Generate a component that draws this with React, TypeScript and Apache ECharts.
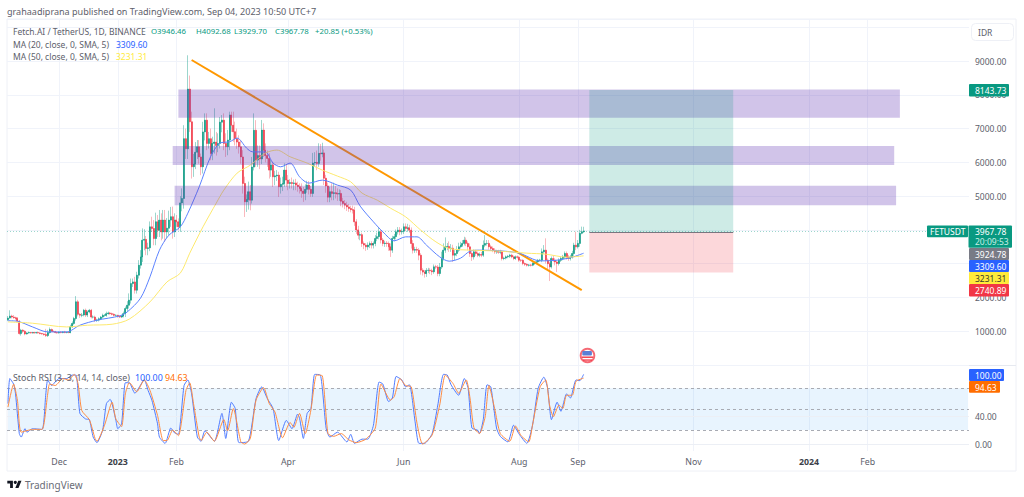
import React, { useEffect, useRef } from "react";
import * as echarts from "echarts";

const closes = [
1390,1450,1420,1400,1380,1300,930,1030,1000,920,
950,960,950,960,950,960,950,930,920,900,
870,960,1050,1000,990,960,950,970,960,980,
960,970,960,1130,1230,1375,1870,1500,1475,1480,
1620,1480,1570,1620,1420,1420,1325,1330,1370,1420,
1470,1470,1520,1540,1520,1500,1470,1470,1440,1420,
1450,1520,1670,1770,1920,2410,2460,2215,2660,2955,
3200,3695,3720,3450,3470,4090,4040,3745,4240,3990,
4290,3940,4290,3940,4050,4290,4390,3940,4290,4240,
4090,4800,4930,6700,6400,8170,7200,5870,5950,6300,
6460,6160,5870,6900,7250,6560,6700,6264,6560,6600,
6500,6560,7190,7250,6560,6460,6660,7400,7100,6906,
6700,6600,6460,6160,5375,4832,4900,5130,4880,5860,
6950,6067,6200,6100,6955,6360,6200,6116,5770,5920,
5573,5600,5622,5276,5350,5375,5770,5474,5375,5400,
5375,5390,5326,5280,5227,5150,5079,5200,5326,5200,
5079,5980,6000,5968,6264,6250,6280,5530,5300,4970,
5130,5079,5100,5079,5060,5079,4850,4783,4733,4680,
4634,4600,4585,4239,4000,3844,3860,3597,3550,3499,
3550,3597,3550,3597,3746,3800,3943,3700,3597,3610,
3597,3500,3400,3746,3800,3943,3993,3943,3960,4091,
4042,4060,3993,3597,3400,3420,3400,3252,2807,2750,
2708,2800,2807,2790,2760,2906,2900,2708,2900,3153,
3400,3499,3510,3449,3460,3252,3300,3400,3500,3548,
3600,3696,3600,3499,3300,3202,3350,3300,3252,3270,
3252,3548,3597,3600,3499,3450,3400,3350,3360,3340,
3350,3153,3165,3202,3220,3252,3200,3153,3202,3190,
3104,3100,3005,2980,2955,2960,2955,3005,3020,3054,
3100,3104,3350,3400,3104,3000,2906,3153,3104,3050,
3005,3100,3153,3200,3301,3200,3153,3200,3301,3548,
3499,3600,3900,3946.46,3967.78];

const upperWicks = [
60,170,40,60,30,40,30,40,30,30,
20,30,20,20,20,20,30,20,20,20,
170,80,60,30,20,20,20,20,30,20,
30,20,30,60,60,50,170,60,40,60,
40,50,40,40,40,50,40,40,40,30,
50,40,60,40,30,30,30,30,20,30,
40,60,60,120,200,150,100,150,100,150,
200,350,300,100,150,160,300,250,270,200,
300,200,300,300,300,280,290,300,200,150,
100,200,300,400,300,1000,400,300,300,300,
200,200,100,300,200,200,200,300,200,1000,
300,300,150,150,200,300,300,100,100,400,
300,300,200,200,200,200,150,300,200,300,
500,300,300,300,300,200,200,150,150,150,
100,150,150,100,200,200,200,150,150,100,
150,100,120,100,100,150,120,150,130,120,
100,300,300,350,300,280,300,100,100,100,
150,250,300,200,150,120,100,100,100,100,
90,80,120,100,80,120,90,60,60,60,
80,60,70,60,100,120,130,80,60,70,
60,60,100,80,80,70,90,90,80,100,
100,120,90,80,100,80,80,60,60,60,
60,70,70,60,60,70,60,60,120,200,
200,280,100,150,120,100,100,120,120,100,
100,100,80,60,100,60,70,60,60,60,
80,140,250,100,100,60,60,60,50,50,
60,40,40,40,40,40,40,40,40,40,
40,30,30,30,30,30,30,40,40,30,
40,40,100,150,350,50,50,60,80,60,
50,60,60,60,60,60,60,60,80,70,
400,100,100,150,125];

const lowerWicks = [
40,20,40,30,40,40,30,60,50,40,
20,20,20,20,20,20,20,20,20,30,
40,40,30,20,20,20,20,20,20,20,
20,20,20,20,30,40,60,60,80,60,
40,60,60,40,40,40,50,50,40,40,
40,40,40,30,30,30,30,30,40,30,
30,40,100,100,100,100,100,100,100,100,
100,150,300,200,200,100,100,200,200,200,
200,250,200,300,200,200,200,200,150,150,
100,150,250,300,300,300,300,350,300,150,
200,200,250,200,250,200,150,200,200,300,
300,200,150,300,200,300,250,300,200,300,
200,200,200,200,300,450,300,300,300,100,
100,200,200,300,150,200,200,250,250,200,
300,250,150,300,200,200,100,200,200,150,
150,200,150,150,150,200,250,200,100,150,
100,100,100,200,100,200,100,200,200,150,
150,200,200,150,200,200,150,120,120,120,
100,80,100,120,120,120,150,100,120,120,
90,90,100,100,80,80,80,100,80,100,
100,120,200,80,80,80,80,100,80,80,
80,100,80,150,100,80,80,150,130,100,
120,100,80,100,100,60,60,80,80,60,
60,80,100,100,100,200,150,80,60,50,
50,60,80,100,100,120,80,70,60,60,
60,50,60,60,80,60,60,60,60,50,
60,60,50,40,40,50,40,50,40,40,
50,50,50,50,40,40,40,30,40,30,
40,40,60,60,100,200,420,50,50,100,
250,60,50,50,60,80,70,60,50,70,
100,50,100,30,38];

const firstOpen = 1340;

const ma20Points = [[0,1311],[5,1296],[13,1127],[21,980],[31,980],[38,1178],[47,1326],[59,1453],[63,1572],[70,1978],[75,2609],[80,3400],[85,3844],[91,4090],[95,4496],[101,5275],[107,6165],[112,6570],[117,6609],[121,6718],[126,6422],[129,6313],[136,6304],[140,5978],[144,5868],[149,5978],[154,5572],[159,5385],[166,5474],[174,5326],[181,5178],[186,4704],[193,4239],[198,3942],[204,3676],[210,3794],[216,3794],[221,3548],[228,3201],[233,3074],[239,3163],[244,3370],[249,3400],[260,3379],[270,3311],[281,3083],[290,3104],[298,3193],[304,3309.6]];

const ma50Points = [[0,1275],[13,1237],[31,1127],[42,1178],[55,1207],[64,1356],[75,1868],[84,2461],[91,2719],[96,3311],[103,4090],[110,4793],[114,5178],[121,5681],[128,5918],[136,6274],[142,6363],[149,6165],[158,5978],[166,5770],[174,5593],[181,5424],[187,5089],[195,4881],[202,4644],[210,4387],[218,3993],[226,3646],[233,3450],[245,3400],[260,3370],[274,3311],[284,3281],[295,3193],[304,3231.31]];

const stochK = [[0,58],[1,94],[3,86],[4,72],[6,15],[7,10],[9,22],[10,17],[13,22],[18,21],[20,72],[21,92],[23,84],[27,94],[31,94],[34,99],[36,99],[38,44],[41,36],[43,35],[45,10],[47,2],[50,20],[52,58],[54,64],[57,34],[58,22],[60,29],[62,88],[64,88],[67,73],[72,92],[74,77],[76,63],[79,29],[80,10],[83,1],[86,23],[88,16],[90,14],[93,84],[95,92],[97,72],[100,10],[102,4],[104,19],[109,4],[113,44],[115,8],[118,60],[120,51],[122,2],[127,4],[131,65],[134,82],[137,65],[140,51],[143,5],[147,34],[150,22],[153,43],[154,37],[156,8],[158,44],[160,51],[162,100],[165,99],[168,23],[170,10],[174,17],[179,3],[181,14],[183,1],[187,7],[190,7],[193,27],[196,89],[198,86],[201,61],[203,66],[205,97],[208,92],[210,82],[212,85],[215,32],[217,1],[220,1],[224,15],[227,56],[230,100],[232,99],[234,85],[238,70],[241,94],[243,80],[245,23],[248,20],[249,15],[251,35],[253,85],[255,82],[258,23],[260,11],[264,3],[267,27],[270,14],[274,1],[277,27],[280,80],[283,96],[285,80],[287,35],[290,60],[292,47],[295,72],[297,66],[300,92],[302,91],[304,100]];

const stochD = [[0,53],[3,86],[5,63],[7,17],[13,21],[18,21],[21,72],[22,86],[25,84],[29,94],[32,92],[35,100],[37,87],[39,48],[43,35],[46,8],[47,4],[51,27],[55,60],[57,36],[60,25],[62,72],[64,88],[65,86],[68,75],[72,92],[75,77],[79,41],[82,5],[84,5],[87,20],[90,12],[94,77],[96,88],[98,58],[101,10],[102,5],[105,17],[109,4],[114,35],[116,19],[119,51],[123,3],[125,0],[128,8],[131,63],[135,81],[138,58],[141,46],[145,9],[149,31],[151,24],[153,38],[154,44],[157,15],[160,49],[163,99],[166,98],[169,15],[172,11],[176,15],[180,6],[184,2],[189,7],[194,23],[197,86],[202,63],[204,68],[207,94],[210,84],[213,82],[216,30],[219,0],[224,13],[228,56],[231,99],[235,87],[238,73],[242,92],[244,66],[246,24],[249,15],[252,39],[254,84],[257,51],[260,15],[265,4],[268,26],[271,12],[275,3],[277,27],[281,82],[284,92],[286,56],[288,39],[291,56],[293,51],[295,70],[298,70],[300,90],[304,94.63]];

const tickDates = ["2022-12-01","2023-01-01","2023-02-01","2023-04-01","2023-06-01","2023-08-01","2023-09-01","2023-11-01","2024-01-01","2024-02-01"];
const tickLabels = ["Dec","2023","Feb","Apr","Jun","Aug","Sep","Nov","2024","Feb"];

const priceTicks = { min: 0, max: 10244, step: 1000 };
const coveredPriceLabels = [3000, 4000, 10000];
const rsiRange = { min: -10, max: 112 };
const rsiTicks = [0, 40];
const rsiDashes = [20, 50, 80];

const lastPrice = 3967.78;
const entryPrice = 3924.78;
const targetPrice = 8143.73;
const stopPrice = 2740.89;

// [first bar, last bar, top price, bottom price]
const zones = [
  [90, 471, 8156, 7320],
  [87, 468, 6482, 5918],
  [88, 469, 5305, 4733],
];
const longFrom = 307;
const longTo = 383;
const trendFrom = [97, 9030];
const trendTo = [303, 2215];

const FONT = '"Noto Sans", sans-serif';
const GREEN = "#089981";
const RED = "#F23645";
const SMALL = 8.5;
const OHLC = 7.8;

const categories: string[] = [];
for (let i = 0; i < 508; i++) {
  categories.push(new Date(Date.UTC(2022, 10, 4 + i)).toISOString().slice(0, 10));
}

const opens = closes.map((_, i) => (i === 0 ? firstOpen : closes[i - 1]));
const wickData = closes.map((c, i) => {
  const o = opens[i];
  return [o, c, Math.min(o, c) - lowerWicks[i], Math.max(o, c) + upperWicks[i]];
});
const bodyData = closes.map((c, i) => {
  const o = opens[i];
  return [o, c, Math.min(o, c), Math.max(o, c)];
});

const isTick = (_: number, v: string) => tickDates.includes(v);

echarts.graphic.registerShape(
  "tvlogo",
  echarts.graphic.extendPath("M14 22H7V11H0V4h14v18zM28 22h-8l7.5-18h8L28 22z", {}) as any
);

function txt(text: string, x: number, y: number, fill: string, size = SMALL) {
  return {
    type: "text",
    x,
    y,
    z: 200,
    silent: true,
    style: { text, fill, font: `${size}px ${FONT}`, textVerticalAlign: "middle", textAlign: "left" },
  };
}
function tag(text: string, x: number, y: number, w: number, h: number, bg: string, fg = "#ffffff") {
  return [
    { type: "rect", z: 190, silent: true, shape: { x, y, width: w, height: h, r: 1 }, style: { fill: bg } },
    txt(text, x + 6, y + h / 2 + 0.3, fg),
  ];
}

const GRAY = "#5d606b";
const graphics: any[] = [
  { type: "rect", z: 0, silent: true, shape: { x: 7, y: 19, width: 1009, height: 452 }, style: { fill: "none", stroke: "#eef0f6", lineWidth: 1 } },
  { type: "line", z: 0, silent: true, shape: { x1: 7, y1: 365.5, x2: 1016, y2: 365.5 }, style: { stroke: "#e6e9f0", lineWidth: 1 } },
  txt("grahaadiprana published on TradingView.com, Sep 04, 2023 10:50 UTC+7", 7, 11.5, GRAY, 9.05),
  txt("Fetch.AI / TetherUS, 1D, BINANCE", 13, 31, GRAY),
  txt("O3946.46", 151, 31, GREEN, OHLC),
  txt("H4092.68", 196, 31, GREEN, OHLC),
  txt("L3929.70", 234, 31, GREEN, OHLC),
  txt("C3967.78", 275, 31, GREEN, OHLC),
  txt("+20.85 (+0.53%)", 315, 31, GREEN, OHLC),
  txt("MA (20, close, 0, SMA, 5)", 13, 44, GRAY),
  txt("3309.60", 116, 44, "#2962FF"),
  txt("MA (50, close, 0, SMA, 5)", 13, 56, GRAY),
  txt("3231.31", 116, 56, "#FFEB3B"),
  txt("Stoch RSI (3, 3, 14, 14, close)", 13, 377, GRAY, 8.9),
  txt("100.00", 135, 377, "#2962FF", 8.9),
  txt("94.63", 165, 377, "#FF6D00", 8.9),
  { type: "rect", z: 190, silent: true, shape: { x: 971.5, y: 23.5, width: 42, height: 17, r: 4 }, style: { fill: "#fff", stroke: "#eef0f6" } },
  txt("IDR", 978, 32, GRAY),
  ...tag("8143.73", 969, 84, 40, 12.6, GREEN),
  { type: "rect", z: 189, silent: true, shape: { x: 927, y: 225.5, width: 41, height: 11.8, r: 1 }, style: { fill: GREEN } },
  txt("FETUSDT", 930, 231.6, "#ffffff"),
  { type: "rect", z: 189, silent: true, shape: { x: 968.5, y: 225.5, width: 43.5, height: 22.3, r: 1 }, style: { fill: GREEN } },
  txt("3967.78", 975, 231.3, "#ffffff"),
  txt("20:09:53", 975, 241.7, "#c8efe6"),
  ...tag("3924.78", 969, 248, 40, 12, "#787B86"),
  ...tag("3309.60", 969, 260, 40, 12, "#2962FF"),
  ...tag("3231.31", 969, 272, 40, 12, "#FFEB3B", "#3b3b2a"),
  ...tag("2740.89", 969, 284, 40, 12.5, RED),
  ...tag("100.00", 969, 369, 35, 12, "#2962FF"),
  ...tag("94.63", 969, 381, 31, 11.8, "#FF6D00"),
  { type: "circle", z: 180, silent: true, shape: { cx: 587.5, cy: 355.5, r: 7.8 }, style: { fill: "#f56a75" } },
  { type: "circle", z: 181, silent: true, shape: { cx: 587.5, cy: 355.5, r: 5.8 }, style: { fill: "#ffffff" } },
  { type: "rect", z: 182, silent: true, shape: { x: 582, y: 356.5, width: 11, height: 1.4 }, style: { fill: "#f23645" } },
  { type: "rect", z: 182, silent: true, shape: { x: 583, y: 359.4, width: 9, height: 1.3 }, style: { fill: "#f23645" } },
  { type: "rect", z: 183, silent: true, shape: { x: 582.3, y: 351, width: 9.6, height: 4.6, r: 1 }, style: { fill: "#5b7fd6" } },
  { type: "tvlogo", z: 200, silent: true, x: 7.3, y: 479.1, scaleX: 0.4, scaleY: 0.4, style: { fill: "#131722" } },
  { type: "circle", z: 200, silent: true, shape: { cx: 15.3, cy: 482.3, r: 1.6 }, style: { fill: "#131722" } },
  txt("TradingView", 25, 484.5, "#6a6d78", 10),
];

const option: any = {
  animation: false,
  backgroundColor: "#ffffff",
  grid: [
    { left: 7, top: 19, width: 962, height: 346, containLabel: false },
    { left: 7, top: 366, width: 962, height: 85, containLabel: false },
  ],
  xAxis: [
    {
      type: "category", gridIndex: 0, data: categories,
      axisLine: { show: false }, axisTick: { show: false }, axisLabel: { show: false },
      splitLine: { show: true, interval: isTick, alignWithLabel: true, lineStyle: { color: "#f0f3fa", width: 1 } },
    },
    {
      type: "category", gridIndex: 1, data: categories,
      axisLine: { show: false }, axisTick: { show: false },
      axisLabel: {
        interval: isTick, margin: 6, fontFamily: FONT, fontSize: 8.8, color: GRAY, hideOverlap: false,
        formatter: (v: string) => {
          const k = tickLabels[tickDates.indexOf(v)];
          return k.startsWith("20") ? `{b|${k}}` : k;
        },
        rich: { b: { fontFamily: FONT, fontSize: 8.8, fontWeight: "bold", color: "#3c3f49" } },
      },
      splitLine: { show: true, interval: isTick, alignWithLabel: true, lineStyle: { color: "#f0f3fa", width: 1 } },
    },
  ],
  yAxis: [
    {
      type: "value", gridIndex: 0, position: "right", min: priceTicks.min, max: priceTicks.max, interval: priceTicks.step,
      axisLine: { show: false }, axisTick: { show: false },
      axisLabel: {
        showMinLabel: false, showMaxLabel: false, margin: 6, fontFamily: FONT, fontSize: SMALL, color: GRAY,
        formatter: (v: number) => (coveredPriceLabels.includes(v) ? "" : v.toFixed(2)),
      },
      splitLine: { show: true, lineStyle: { color: "#f0f3fa", width: 1 } },
    },
    {
      type: "value", gridIndex: 1, position: "right", min: rsiRange.min, max: rsiRange.max,
      axisLine: { show: false }, axisTick: { show: false },
      axisLabel: { customValues: rsiTicks, margin: 6, fontFamily: FONT, fontSize: SMALL, color: GRAY, formatter: (v: number) => v.toFixed(2) },
      splitLine: { show: false },
    },
  ],
  series: [
    {
      name: "wicks", type: "candlestick", xAxisIndex: 0, yAxisIndex: 0, data: wickData, barWidth: 1, z: 2,
      itemStyle: { color: "rgba(8,153,129,.35)", color0: "rgba(242,54,69,.35)", borderColor: "rgba(8,153,129,.4)", borderColor0: "rgba(242,54,69,.35)", borderColorDoji: "rgba(8,153,129,.4)", borderWidth: 1 },
    },
    {
      name: "bodies", type: "candlestick", xAxisIndex: 0, yAxisIndex: 0, data: bodyData, barWidth: 1.5, z: 3,
      itemStyle: { color: GREEN, color0: RED, borderColor: GREEN, borderColor0: RED, borderColorDoji: GREEN, borderWidth: 0.6 },
      markLine: {
        silent: true, symbol: "none", z: 4, label: { show: false }, animation: false,
        data: [
          [{ coord: [categories[trendFrom[0]], trendFrom[1]], lineStyle: { color: "#FF9800", width: 2, type: "solid" } }, { coord: [categories[trendTo[0]], trendTo[1]] }],
          [{ coord: [categories[longFrom], entryPrice], lineStyle: { color: "#787B86", width: 1, type: "solid" } }, { coord: [categories[longTo], entryPrice] }],
          { yAxis: lastPrice, lineStyle: { color: GREEN, width: 1, type: [1, 2], opacity: 0.4 } },
        ],
      },
      markArea: {
        silent: true, z: 6, label: { show: false },
        data: [
          ...zones.map((z) => [
            { coord: [categories[z[0]], z[2]], itemStyle: { color: "rgba(103,58,183,.3)" } },
            { coord: [categories[z[1]], z[3]] },
          ]),
          [{ coord: [categories[longFrom], targetPrice], itemStyle: { color: "rgba(8,153,129,.2)" } }, { coord: [categories[longTo], entryPrice] }],
          [{ coord: [categories[longFrom], entryPrice], itemStyle: { color: "rgba(242,54,69,.2)" } }, { coord: [categories[longTo], stopPrice] }],
        ],
      },
    },
    { name: "MA20", type: "line", xAxisIndex: 0, yAxisIndex: 0, data: ma20Points, symbol: "none", smooth: 0.3, z: 5, lineStyle: { color: "#5b82ff", width: 1 } },
    { name: "MA50", type: "line", xAxisIndex: 0, yAxisIndex: 0, data: ma50Points, symbol: "none", smooth: 0.3, z: 5, lineStyle: { color: "#fde96e", width: 1 } },
    {
      name: "StochK", type: "line", xAxisIndex: 1, yAxisIndex: 1, data: stochK, symbol: "none", smooth: 0.2, z: 5, lineStyle: { color: "#4f7bff", width: 1 },
      markArea: {
        silent: true, z: 1, label: { show: false },
        data: [[{ coord: [categories[0], 80], itemStyle: { color: "rgba(33,150,243,.1)" } }, { coord: [categories[507], 20] }]],
      },
      markLine: {
        silent: true, symbol: "none", z: 2, label: { show: false },
        data: [
          ...rsiDashes.map((v) => ({ yAxis: v, lineStyle: { color: "#a8abb3", width: 1, type: [3, 3] } })),
          ...rsiTicks.map((v) => ({ yAxis: v, lineStyle: { color: "#eceff5", width: 1, type: "solid" } })),
        ],
      },
    },
    { name: "StochD", type: "line", xAxisIndex: 1, yAxisIndex: 1, data: stochD, symbol: "none", smooth: 0.2, z: 6, lineStyle: { color: "#ff8c42", width: 1 } },
  ],
  graphic: graphics,
};

export default function App() {
  const ref = useRef<HTMLDivElement>(null);
  useEffect(() => {
    const chart = echarts.init(ref.current!, null, { renderer: "svg" });
    chart.setOption(option);
    return () => chart.dispose();
  }, []);
  return <div ref={ref} style={{ position: "absolute", left: 0, top: 0, width: 1024, height: 497, background: "#fff" }} />;
}
